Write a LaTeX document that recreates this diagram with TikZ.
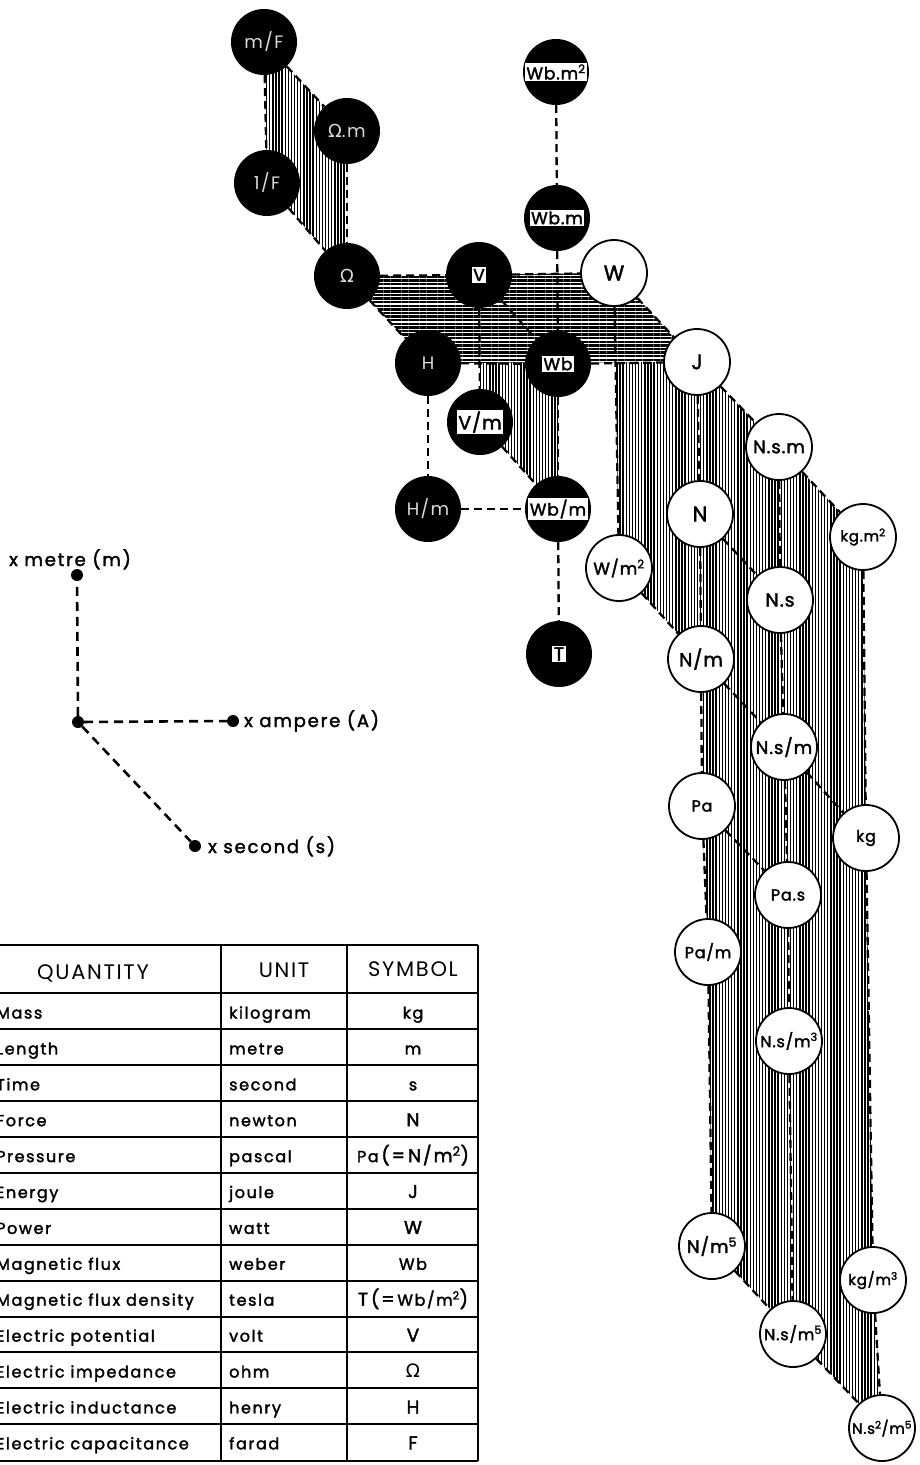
\documentclass[tikz,border=0pt]{standalone}
\usepackage{fontspec}
\setmainfont{Poppins}
\newfontfamily\gk{DejaVu Sans}
\newfontfamily\spaced{Poppins}[LetterSpace=10,FakeBold=2]
\newfontfamily\spacedl{Poppins}[LetterSpace=8]
\newfontfamily\spacedb{Poppins}[LetterSpace=5,FakeBold=2]
\usetikzlibrary{patterns.meta,backgrounds}
\setlength{\fboxsep}{1.6pt}
\newcommand\bxl[1]{\colorbox{white}{\spacedb #1}}
\newcommand\sy{\fontsize{18.5}{18.5}\selectfont}
\newcommand\trow[4]{%
  \node[qt,anchor=base west] (q#1) at (-4,{993+(#1-1)*35.9+25.5}) {#2};
  \node[qt,anchor=base west] (u#1) at (229,{993+(#1-1)*35.9+25.5}) {#3};
  \node[qt,anchor=base] (s#1) at (413,{993+(#1-1)*35.9+25.5}) {#4};}
\begin{document}
\begin{tikzpicture}[x=1pt,y=-1pt,
  bn/.style={circle,fill=black,minimum size=66pt,inner sep=0pt,text=white!85!black,font=\spacedl\fontsize{18}{18}\selectfont},
  bx/.style={circle,fill=black,minimum size=66pt,inner sep=0pt,text=black,font=\fontsize{17}{17}\selectfont},
  wn/.style={circle,draw=black,line width=1.8pt,fill=white,minimum size=66pt,inner sep=0pt,font=\spacedb\fontsize{21}{21}\selectfont},
  cn/.style={line width=2.3pt,dash pattern=on 8pt off 5pt},
  ax/.style={line width=2.6pt,dash pattern=on 9pt off 6pt},
  vh/.style={pattern={Lines[angle=90,distance=3.1pt,line width=1.4pt]}},
  hh/.style={pattern={Lines[angle=0,distance=3.6pt,line width=2.3pt]}},
  dot/.style={circle,fill=black,minimum size=12pt,inner sep=0pt},
  lab/.style={inner sep=0pt,font=\spaced\fontsize{18}{18}\selectfont},
  qt/.style={inner sep=0pt,font=\spaced\fontsize{16}{16}\selectfont},
  hd/.style={inner sep=0pt,font=\spacedl\fontsize{21}{21}\selectfont},
  tl/.style={line width=1.8pt}]
\useasboundingbox (0,0) rectangle (919,1465);
% --- nodes: black
\node[bn] (mF) at (264,42) {m/F};
\node[bn] (Om) at (347,131) {{\gk Ω}.m};
\node[bn] (iF) at (267,183) {1/F};
\node[bn] (Ohm) at (347,276) {{\gk Ω}};
\node[bx] (V) at (479,275) {\bxl{V}};
\node[bx] (Wbm2) at (556,72) {\bxl{Wb.m\textsuperscript{2}}};
\node[bx] (Wbm) at (557,218) {\bxl{Wb.m}};
\node[bn] (H) at (428,363) {H};
\node[bx] (Wb) at (558,364) {\bxl{Wb}};
\node[bx,font=\fontsize{19}{19}\selectfont] (Vm) at (480,422) {\bxl{V/m}};
\node[bn] (Hm) at (428,509) {H/m};
\node[bx] (Wbpm) at (558,509) {\bxl{Wb/m}};
\node[bx,font=\fontsize{19}{19}\selectfont] (T) at (559,654) {\bxl{T}};
% --- nodes: white
\node[wn] (W) at (614,273) {W};
\node[wn] (J) at (697,362) {J};
\node[wn,font=\spacedb\fontsize{18}{18}\selectfont] (Nsm) at (779,447) {N.s.m};
\node[wn] (N) at (700,514) {N};
\node[wn,font=\spacedb\fontsize{15}{15}\selectfont] (kgm2) at (863,537) {kg.m\textsuperscript{2}};
\node[wn,font=\spacedb\fontsize{17}{17}\selectfont] (Wm2) at (619,568) {W/m\textsuperscript{2}};
\node[wn,font=\spacedb\fontsize{19}{19}\selectfont] (Ns) at (780,600) {N.s};
\node[wn,font=\spacedb\fontsize{19}{19}\selectfont] (Nm) at (701,659) {N/m};
\node[wn,font=\spacedb\fontsize{18}{18}\selectfont] (Nspm) at (784,747) {N.s/m};
\node[wn,font=\spacedb\fontsize{16}{16}\selectfont] (Pa) at (702,806) {Pa};
\node[wn,font=\spacedb\fontsize{16}{16}\selectfont] (kg) at (866,838) {kg};
\node[wn,font=\spacedb\fontsize{16}{16}\selectfont] (Pas) at (788,895) {Pa.s};
\node[wn,font=\spacedb\fontsize{16}{16}\selectfont] (Pam) at (708,952) {Pa/m};
\node[wn,font=\spacedb\fontsize{16}{16}\selectfont] (Nsm3) at (789,1041) {N.s/m\textsuperscript{3}};
\node[wn,font=\spacedb\fontsize{18}{18}\selectfont] (Nm5) at (712,1246) {N/m\textsuperscript{5}};
\node[wn,font=\spacedb\fontsize{15}{15}\selectfont] (kgm3) at (873,1280) {kg/m\textsuperscript{3}};
\node[wn,font=\spacedb\fontsize{16}{16}\selectfont] (Nsm5) at (793,1334) {N.s/m\textsuperscript{5}};
\node[wn,font=\spacedb\fontsize{15}{15}\selectfont] (Ns2m5) at (882,1428) {N.s\textsuperscript{2}/m\textsuperscript{5}};
\begin{scope}[on background layer]
  \fill[vh] (W.center) -- (J.center) -- (Nsm.center) -- (kgm2.center) -- (kg.center) -- (kgm3.center) -- (Ns2m5.center) -- (Nsm5.center) -- (Nm5.center) -- (Pam.center) -- (Pa.center) -- (Nm.center) -- (Wm2.center) -- cycle;
  \fill[vh] (V.center) -- (Wb.center) -- (Wbpm.center) -- (Vm.center) -- cycle;
  \fill[vh] (mF.center) -- (Om.center) -- (Ohm.center) -- (iF.center) -- cycle;
  \fill[white] (Ohm.center) -- (W.center) -- (J.center) -- (H.center) -- cycle;
  \fill[hh] (Ohm.center) -- (W.center) -- (J.center) -- (H.center) -- cycle;
  % connectors
  \draw[cn] (mF) -- (iF);
  \draw[cn] (Om) -- (Ohm);
  \draw[cn] (mF) -- (Om);
  \draw[cn] (iF) -- (Ohm);
  \draw[cn] (Ohm) -- (V);
  \draw[cn] (V) -- (W);
  \draw[cn] (Ohm) -- (H);
  \draw[cn] (H) -- (Wb);
  \draw[cn] (Wb) -- (J);
  \draw[cn] (V) -- (Wb);
  \draw[cn] (W) -- (J);
  \draw[cn] (Wbm2) -- (Wbm);
  \draw[cn] (Wbm) -- (Wb);
  \draw[cn] (V) -- (Vm);
  \draw[cn] (Vm) -- (Wbpm);
  \draw[cn] (Wb) -- (Wbpm);
  \draw[cn] (H) -- (Hm);
  \draw[cn] (Hm) -- (Wbpm);
  \draw[cn] (Wbpm) -- (T);
  \draw[cn] (W) -- (Wm2);
  \draw[cn] (Wm2) -- (Nm);
  \draw[cn] (J) -- (N);
  \draw[cn] (N) -- (Nm);
  \draw[cn] (J) -- (Nsm);
  \draw[cn] (Nsm) -- (kgm2);
  \draw[cn] (N) -- (Ns);
  \draw[cn] (Nsm) -- (Ns);
  \draw[cn] (Ns) -- (Nspm);
  \draw[cn] (Nm) -- (Nspm);
  \draw[cn] (Nspm) -- (kg);
  \draw[cn] (kgm2) -- (kg);
  \draw[cn] (Nm) -- (Pa);
  \draw[cn] (Pa) -- (Pam);
  \draw[cn] (Pa) -- (Pas);
  \draw[cn] (Nspm) -- (Pas);
  \draw[cn] (Pas) -- (Nsm3);
  \draw[cn] (Pam) -- (Nm5);
  \draw[cn] (Nsm3) -- (Nsm5);
  \draw[cn] (kg) -- (kgm3);
  \draw[cn] (kgm3) -- (Ns2m5);
  \draw[cn] (Nm5) -- (Nsm5);
  \draw[cn] (Nsm5) -- (Ns2m5);
\end{scope}
% --- axes legend
\node[dot] (o) at (78,722) {};
\node[dot] (am) at (77,575) {};
\node[dot] (aa) at (233,721) {};
\node[dot] (as) at (195,846) {};
\draw[ax] (o) -- (am);
\draw[ax] (o) -- (aa);
\draw[ax] (o) -- (as);
\node[lab,anchor=base west] (lm) at (9,566) {x metre (m)};
\node[lab,anchor=base west] (la) at (244,727) {x ampere (A)};
\node[lab,anchor=base west] (ls) at (208,853) {x second (s)};
% --- table
\foreach \y in {945,993,1029,1065,1101,1137,1173,1209,1245,1281,1317,1352,1388,1424,1461}
  \draw[tl] (-2,\y) -- (478,\y);
\foreach \x in {221,347,478}
  \draw[tl] (\x,945) -- (\x,1461);
\node[hd,anchor=base] (hq) at (93,979) {QUANTITY};
\node[hd,anchor=base] (hu) at (284,977) {UNIT};
\node[hd,anchor=base] (hs) at (413,976) {SYMBOL};
\trow{1}{Mass}{kilogram}{kg}
\trow{2}{Length}{metre}{m}
\trow{3}{Time}{second}{s}
\trow{4}{Force}{newton}{\sy N}
\trow{5}{Pressure}{pascal}{Pa\,{\sy(=\,N/m\textsuperscript{2})}}
\trow{6}{Energy}{joule}{\sy J}
\trow{7}{Power}{watt}{\sy W}
\trow{8}{Magnetic flux}{weber}{Wb}
\trow{9}{Magnetic flux density}{tesla}{{\sy T\,(=}\,Wb/m\textsuperscript{2}{\sy)}}
\trow{10}{Electric potential}{volt}{\sy V}
\trow{11}{Electric impedance}{ohm}{{\gk\sy Ω}}
\trow{12}{Electric inductance}{henry}{\sy H}
\trow{13}{Electric capacitance}{farad}{\sy F}
\end{tikzpicture}
\end{document}
